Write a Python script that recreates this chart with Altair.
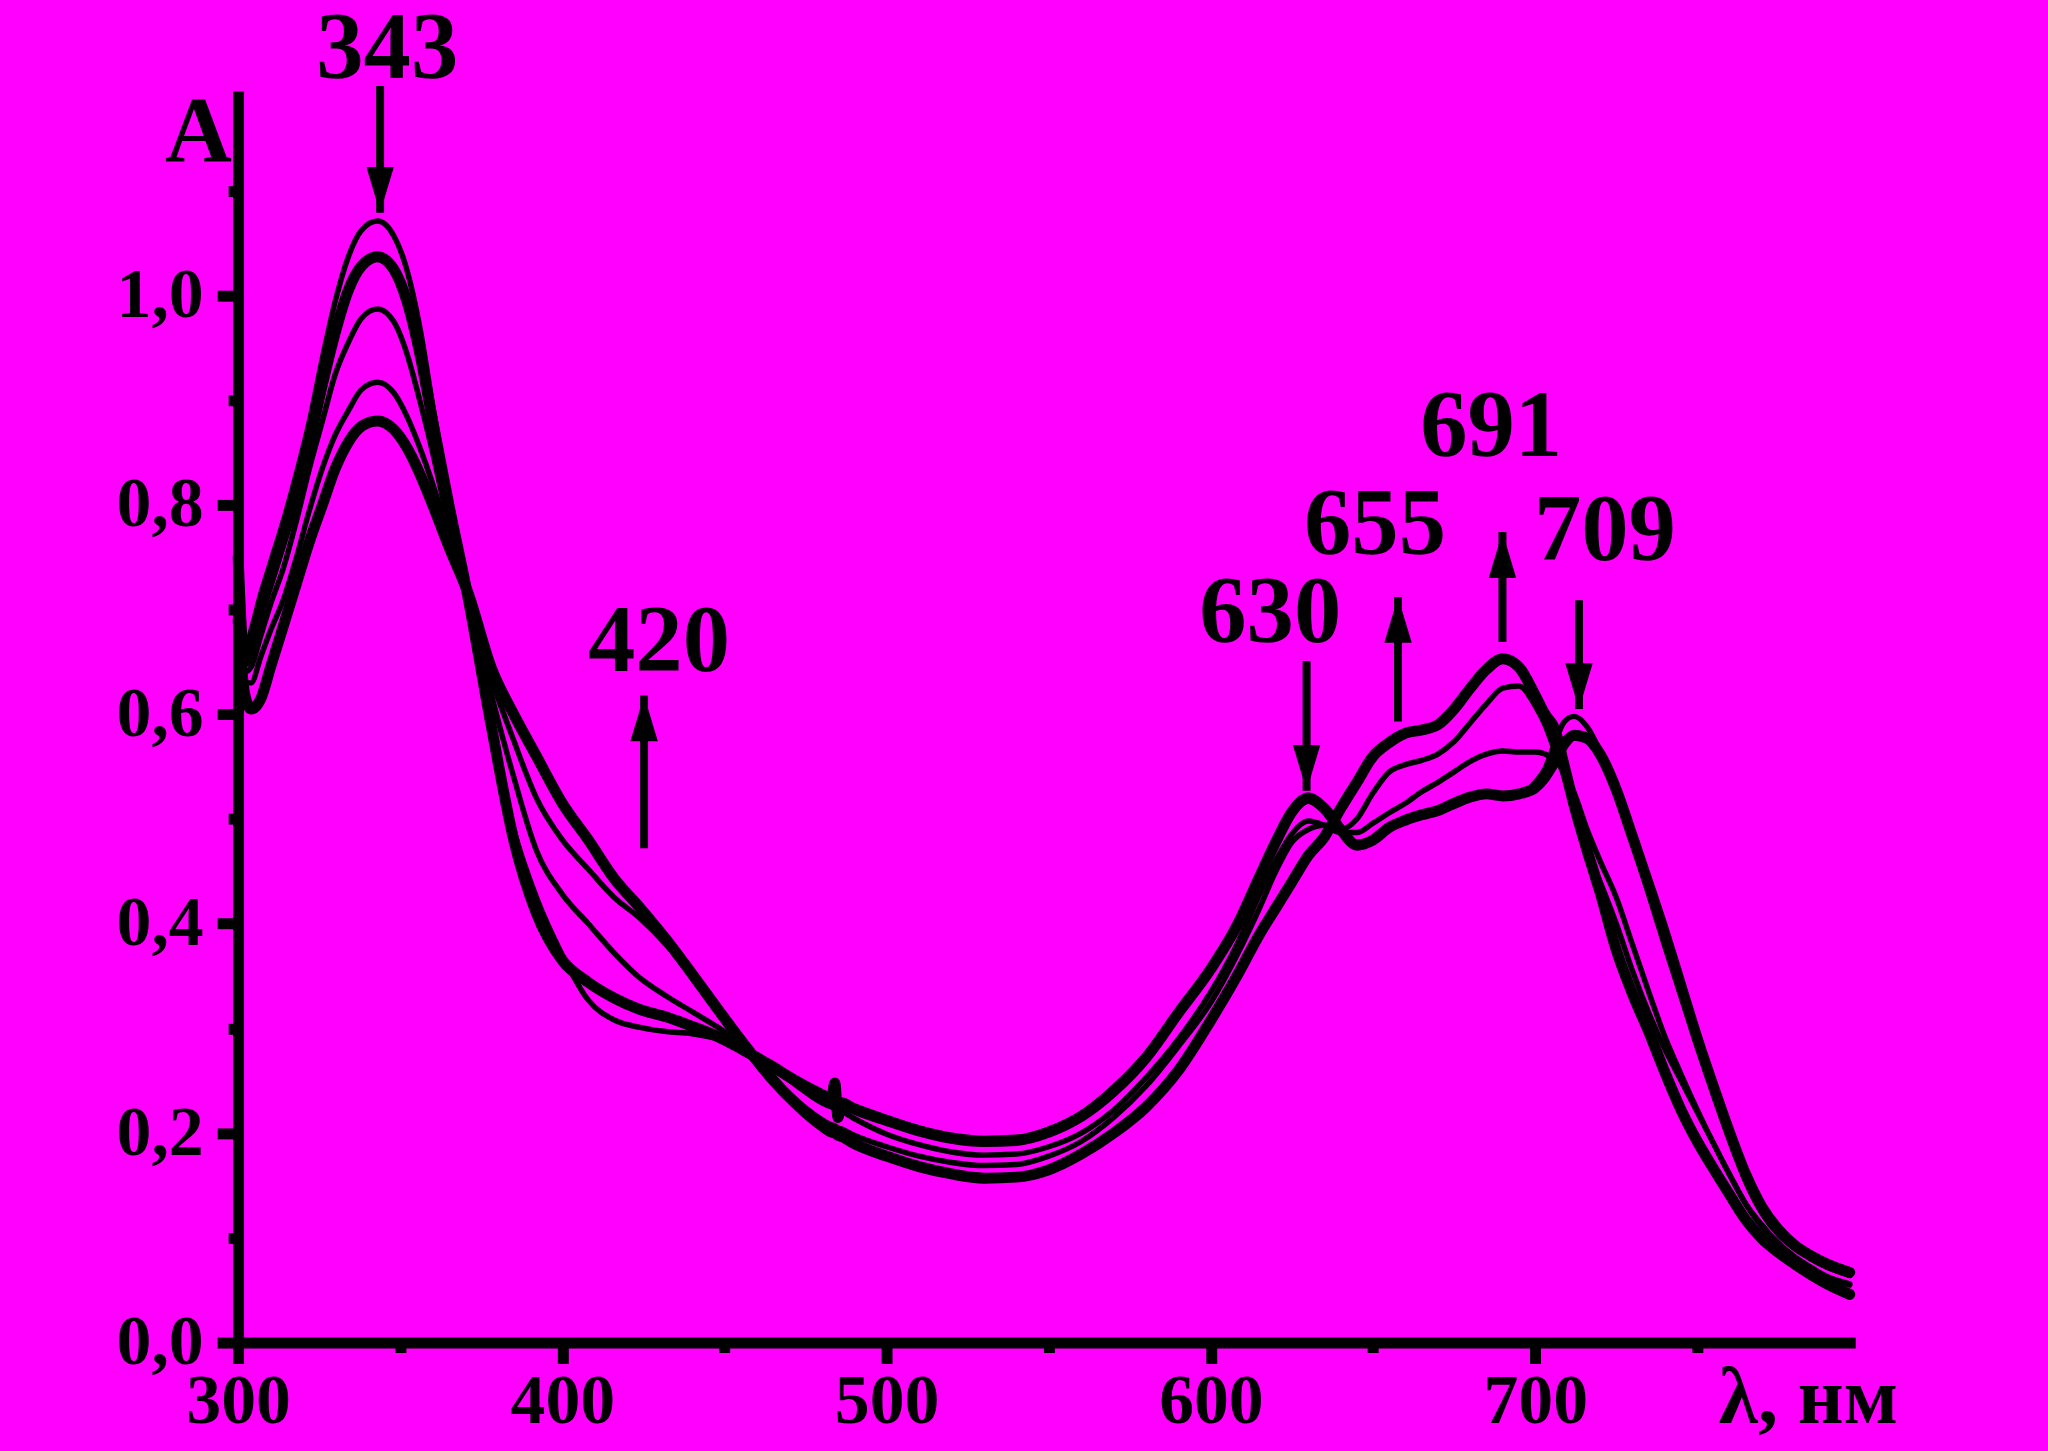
import altair as alt
import pandas as pd

# ---------------- data ----------------
wavelength = [300, 302, 304, 307, 310, 314, 318, 322, 326, 330, 334, 338, 343, 348, 352, 356, 360, 365, 371,
              378, 385, 392, 400, 408, 416, 424, 432, 440, 448, 456, 464, 472, 480, 483, 484, 485, 486,
              490, 500, 510, 520, 530, 540, 550, 560, 570, 580, 590, 600, 608, 615,
              620, 625, 630, 635, 640, 645, 650, 655, 660, 665, 670, 675, 680, 685, 690, 695, 700,
              703, 706, 709, 712, 716, 720,
              725, 730, 735, 740, 745, 750, 755, 760, 765, 770, 775, 780, 785, 790, 797]

curve_a = [0.77, 0.66, 0.68, 0.715, 0.745, 0.785, 0.83, 0.88, 0.94, 0.995, 1.037, 1.062, 1.071, 1.057, 1.025, 0.97, 0.895, 0.805, 0.71,
           0.585, 0.49, 0.425, 0.37, 0.327, 0.308, 0.301, 0.297, 0.295, 0.29, 0.28, 0.266, 0.251, 0.238, 0.234, 0.233, 0.232, 0.231,
           0.226, 0.215, 0.205, 0.198, 0.195, 0.196, 0.204, 0.219, 0.244, 0.276, 0.318, 0.36, 0.40, 0.447,
           0.48, 0.505, 0.517, 0.507, 0.489, 0.478, 0.482, 0.493, 0.5, 0.504, 0.507, 0.512, 0.519, 0.522, 0.521, 0.523, 0.535,
           0.548, 0.572, 0.593, 0.598, 0.588, 0.565,
           0.528, 0.48, 0.428, 0.378, 0.33, 0.283, 0.237, 0.193, 0.153, 0.123, 0.103, 0.09, 0.08, 0.072, 0.064]

curve_b = [0.75, 0.65, 0.66, 0.70, 0.73, 0.77, 0.81, 0.86, 0.915, 0.965, 1.005, 1.028, 1.037, 1.025, 0.995, 0.945, 0.88, 0.80, 0.71,
           0.59, 0.48, 0.41, 0.365, 0.344, 0.329, 0.318, 0.311, 0.302, 0.292, 0.279, 0.265, 0.25, 0.237, 0.233, 0.248, 0.215, 0.229,
           0.223, 0.212, 0.202, 0.195, 0.192, 0.193, 0.201, 0.216, 0.24, 0.272, 0.315, 0.357, 0.398, 0.445,
           0.478, 0.507, 0.52, 0.51, 0.49, 0.475, 0.48, 0.492, 0.499, 0.504, 0.508, 0.515, 0.521, 0.524, 0.522, 0.524, 0.53,
           0.54, 0.555, 0.572, 0.58, 0.577, 0.562,
           0.528, 0.483, 0.437, 0.39, 0.34, 0.29, 0.244, 0.2, 0.16, 0.129, 0.108, 0.093, 0.083, 0.075, 0.067]

curve_c = [0.73, 0.64, 0.645, 0.675, 0.705, 0.74, 0.785, 0.835, 0.88, 0.925, 0.955, 0.978, 0.987, 0.975, 0.945, 0.90, 0.85, 0.78, 0.71,
           0.62, 0.54, 0.47, 0.428, 0.40, 0.372, 0.348, 0.331, 0.316, 0.301, 0.284, 0.265, 0.246, 0.229, 0.225, 0.224, 0.222, 0.221,
           0.214, 0.199, 0.189, 0.182, 0.179, 0.18, 0.187, 0.2, 0.222, 0.253, 0.29, 0.335, 0.38, 0.428,
           0.46, 0.486, 0.498, 0.494, 0.487, 0.487, 0.496, 0.506, 0.515, 0.526, 0.535, 0.545, 0.555, 0.562, 0.565, 0.564, 0.564,
           0.562, 0.556, 0.545, 0.525, 0.49, 0.46,
           0.425, 0.38, 0.335, 0.292, 0.256, 0.222, 0.19, 0.16, 0.132, 0.112, 0.095, 0.082, 0.072, 0.063, 0.056]

curve_d = [0.71, 0.63, 0.63, 0.655, 0.68, 0.71, 0.75, 0.795, 0.835, 0.867, 0.89, 0.91, 0.917, 0.907, 0.885, 0.855, 0.82, 0.77, 0.71,
           0.635, 0.575, 0.52, 0.48, 0.452, 0.425, 0.405, 0.38, 0.35, 0.318, 0.287, 0.257, 0.232, 0.213, 0.208, 0.207, 0.205, 0.204,
           0.198, 0.187, 0.178, 0.172, 0.169, 0.17, 0.178, 0.192, 0.215, 0.245, 0.283, 0.325, 0.37, 0.415,
           0.45, 0.478, 0.49, 0.494, 0.49, 0.5, 0.525, 0.545, 0.552, 0.556, 0.562, 0.574, 0.592, 0.61, 0.625, 0.627, 0.608,
           0.59, 0.565, 0.54, 0.51, 0.47, 0.44,
           0.40, 0.355, 0.315, 0.28, 0.25, 0.22, 0.19, 0.16, 0.132, 0.11, 0.094, 0.081, 0.071, 0.062, 0.055]

curve_e = [0.69, 0.62, 0.605, 0.615, 0.645, 0.685, 0.725, 0.765, 0.80, 0.835, 0.86, 0.875, 0.88, 0.872, 0.855, 0.83, 0.80, 0.76, 0.715,
           0.645, 0.60, 0.56, 0.515, 0.48, 0.443, 0.415, 0.385, 0.352, 0.318, 0.285, 0.254, 0.228, 0.207, 0.201, 0.2, 0.198, 0.197,
           0.19, 0.178, 0.168, 0.161, 0.157, 0.158, 0.165, 0.18, 0.2, 0.225, 0.26, 0.308, 0.35, 0.39,
           0.415, 0.44, 0.465, 0.483, 0.51, 0.535, 0.56, 0.573, 0.582, 0.585, 0.59, 0.605, 0.625, 0.643, 0.653, 0.645, 0.618,
           0.6, 0.586, 0.55, 0.513, 0.47, 0.43,
           0.375, 0.333, 0.297, 0.258, 0.222, 0.192, 0.166, 0.141, 0.117, 0.099, 0.086, 0.075, 0.065, 0.056, 0.046]

curve_names = ["1", "2", "3", "4", "5"]
curve_values = [curve_a, curve_b, curve_c, curve_d, curve_e]
curve_widths = [5.5, 11, 5.5, 5.5, 11]

# peak annotations
label_text = ["343", "420", "630", "655", "691", "709"]
label_x = [346.0, 429.8, 618.3, 650.6, 686.4, 721.5]
label_y = [1.208, 0.641, 0.6692, 0.753, 0.8465, 0.747]

# arrows: wavelength, tail absorbance, tip absorbance, direction
arrow_x = [343.8, 425.2, 629.5, 657.7, 689.9, 713.5]
arrow_tail = [1.200, 0.472, 0.651, 0.593, 0.669, 0.709]
arrow_tip = [1.079, 0.618, 0.527, 0.712, 0.774, 0.605]
arrow_dir = ["down", "up", "down", "up", "up", "down"]

x_ticks = [300, 350, 400, 450, 500, 550, 600, 650, 700, 750]
y_ticks = [0.0, 0.1, 0.2, 0.3, 0.4, 0.5, 0.6, 0.7, 0.8, 0.9, 1.0, 1.1]

# ---------------- build ----------------
FONT = "Liberation Serif"
BG = "#FF00FF"
rows = []
for name, vals, sw in zip(curve_names, curve_values, curve_widths):
    for w, v in zip(wavelength, vals):
        rows.append({"wl": w, "absb": v, "curve": name, "sw": sw})
df = pd.DataFrame(rows)

labels_df = pd.DataFrame({"text": label_text, "x": label_x, "y": label_y})
arrows_df = pd.DataFrame({"x": arrow_x, "y1": arrow_tail, "y2": arrow_tip, "dir": arrow_dir})

x_scale = alt.Scale(domain=[300, 797], nice=False, zero=False)
y_scale = alt.Scale(domain=[0, 1.19], nice=False, zero=False)

x_axis = alt.Axis(
    values=x_ticks, format="d",
    labelExpr="datum.value % 100 == 0 ? datum.label : ''",
    tickSize={"condition": {"test": "datum.value % 100 == 0", "value": 21}, "value": 10},
    tickWidth=11, tickColor="black",
    domainWidth=11, domainColor="black", domainCap="square",
    labelFont=FONT, labelFontSize=70, labelFontWeight="bold", labelColor="black",
    labelPadding=4, labelFlush=False, labelOverlap=False,
    grid=False, zindex=1,
    title="λ, нм", titleFont=FONT, titleFontSize=80, titleFontWeight="bold", titleColor="black",
    titleAlign="left", titleBaseline="alphabetic", titleX=1486, titleY=80, titleAngle=0,
)
y_axis = alt.Axis(
    values=y_ticks,
    labelExpr="round(datum.value * 10) % 2 == 0 ? replace(format(datum.value, '.1f'), '.', ',') : ''",
    tickSize={"condition": {"test": "round(datum.value * 10) % 2 == 0", "value": 21}, "value": 10},
    tickWidth=11, tickColor="black",
    domainWidth=11, domainColor="black", domainCap="square",
    labelFont=FONT, labelFontSize=70, labelFontWeight="bold", labelColor="black",
    labelPadding=14, labelFlush=False, labelOverlap=False,
    grid=False, zindex=1,
    title="A", titleFont=FONT, titleFontSize=93, titleFontWeight="bold", titleColor="black",
    titleAlign="left", titleBaseline="alphabetic", titleX=-74, titleY=64, titleAngle=0,
)

lines = alt.Chart(df).mark_line(color="black", interpolate="monotone", strokeJoin="round", strokeCap="round").encode(
    x=alt.X("wl:Q", scale=x_scale, axis=x_axis),
    y=alt.Y("absb:Q", scale=y_scale, axis=y_axis),
    detail="curve:N",
    strokeWidth=alt.StrokeWidth("sw:Q", scale=None, legend=None),
)

texts = alt.Chart(labels_df).mark_text(
    font=FONT, fontSize=95, fontWeight="bold", color="black", align="center", baseline="alphabetic"
).encode(x=alt.X("x:Q", scale=x_scale), y=alt.Y("y:Q", scale=y_scale), text="text:N")

shafts = alt.Chart(arrows_df).mark_rule(color="black", strokeWidth=8).encode(
    x=alt.X("x:Q", scale=x_scale), y=alt.Y("y1:Q", scale=y_scale), y2="y2:Q"
)

head_up = "M0,0L0.6,2L-0.6,2Z"
head_down = "M0,0L0.6,-2L-0.6,-2Z"
heads = alt.Chart(arrows_df).mark_point(filled=True, color="black", opacity=1, size=2116, strokeWidth=0).encode(
    x=alt.X("x:Q", scale=x_scale), y=alt.Y("y2:Q", scale=y_scale),
    shape=alt.Shape("dir:N", scale=alt.Scale(domain=["up", "down"], range=[head_up, head_down]), legend=None),
)

chart = alt.layer(lines, shafts, heads, texts).properties(
    width=1618, height=1251,
    background=BG,
    padding={"left": 231, "top": 86, "right": 191, "bottom": 97},
    autosize=alt.AutoSizeParams(type="none"),
).configure_view(strokeWidth=0)


class _PageTemplate:
    """Standard Altair page, with the page background set to the chart colour."""

    def __init__(self, base):
        self.base = base

    def render(self, **kw):
        html = self.base.render(**kw)
        return html.replace("<head>", "<head>\n<style>html, body { background: %s; }</style>" % BG, 1)


try:
    from altair.utils import html as _alt_html
    _tpl = _PageTemplate(_alt_html.TEMPLATES["standard"])
    chart.save("out.html", embed_options={"renderer": "svg", "actions": False}, template=_tpl)
except Exception:
    chart.save("out.html", embed_options={"renderer": "svg", "actions": False})
